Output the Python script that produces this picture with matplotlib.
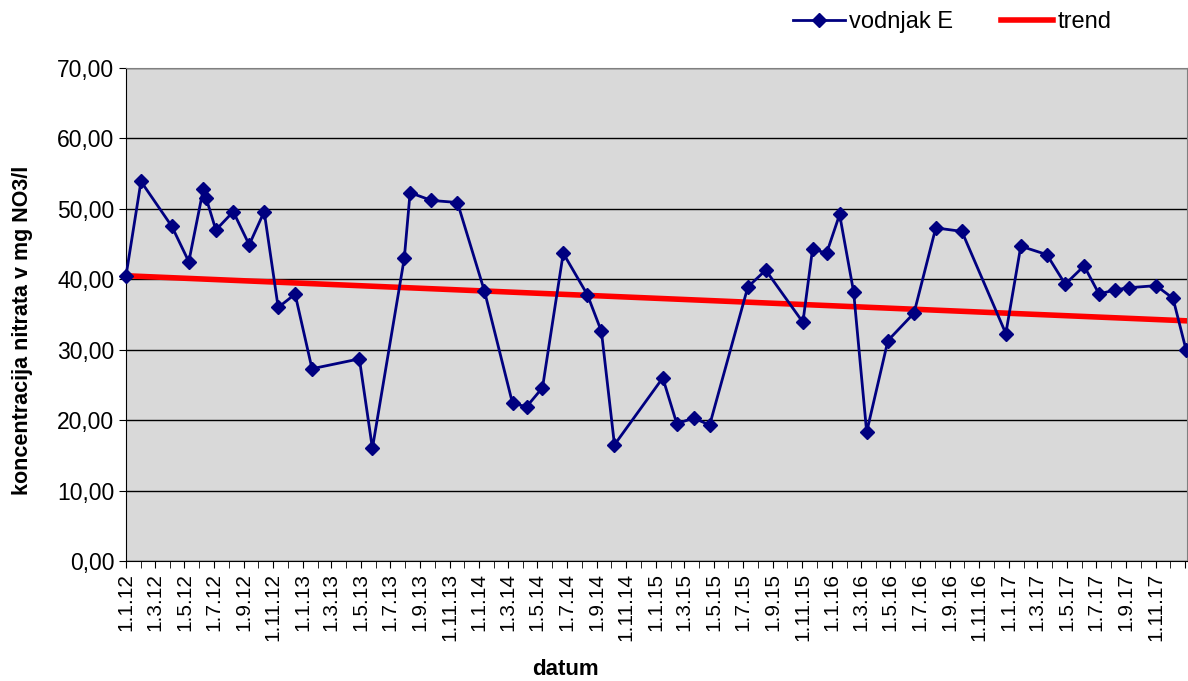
import matplotlib
matplotlib.use("Agg")
from matplotlib import pyplot as plt
import matplotlib.dates as mdates
from matplotlib.ticker import FuncFormatter, MultipleLocator
import pandas as pd

plt.rcParams['font.family'] = ['Liberation Sans', 'DejaVu Sans']

dates = ["2012-01-01", "2012-02-01", "2012-04-05", "2012-05-10", "2012-06-09",
         "2012-06-15", "2012-07-05", "2012-08-10", "2012-09-12", "2012-10-13",
         "2012-11-11", "2012-12-16", "2013-01-20", "2013-04-28", "2013-05-25",
         "2013-07-30", "2013-08-11", "2013-09-24", "2013-11-17", "2014-01-12",
         "2014-03-11", "2014-04-09", "2014-05-12", "2014-06-24", "2014-08-13",
         "2014-09-11", "2014-10-08", "2015-01-16", "2015-02-14", "2015-03-21",
         "2015-04-23", "2015-07-11", "2015-08-17", "2015-11-02", "2015-11-22",
         "2015-12-21", "2016-01-17", "2016-02-15", "2016-03-13", "2016-04-26",
         "2016-06-19", "2016-08-03", "2016-09-26", "2016-12-26", "2017-01-26",
         "2017-03-21", "2017-04-28", "2017-06-06", "2017-07-07", "2017-08-09",
         "2017-09-07", "2017-11-02", "2017-12-07", "2018-01-03"]
nitrate = [40.5, 53.9, 47.5, 42.5, 52.8, 51.5, 47.0, 49.6, 44.9, 49.6,
           36.0, 37.9, 27.3, 28.7, 16.0, 43.0, 52.3, 51.2, 50.9, 38.3,
           22.4, 21.9, 24.6, 43.7, 37.8, 32.6, 16.5, 26.0, 19.5, 20.3,
           19.3, 38.9, 41.3, 33.9, 44.3, 43.7, 49.2, 38.2, 18.3, 31.3,
           35.2, 47.3, 46.8, 32.3, 44.7, 43.5, 39.3, 41.9, 37.9, 38.5,
           38.8, 39.1, 37.3, 30.0]

trend_dates = ["2012-01-01", "2018-01-05"]
trend_vals = [40.5, 34.1]

x = pd.to_datetime(dates)
xt = pd.to_datetime(trend_dates)


def date_label(v, pos):
    d = mdates.num2date(v)
    if d.year > 2017:
        return ""
    return f"{d.day}.{d.month}.{d.strftime('%y')}"


fig = plt.figure(figsize=(11.88, 6.81), dpi=100)
ax = fig.add_axes([126 / 1188, 1 - 561 / 681, (1187 - 126) / 1188, (561 - 68) / 681])
ax.set_facecolor("#d9d9d9")

ax.plot(x, nitrate, color="#000080", lw=2, marker="D", markersize=7,
        label="vodnjak E", zorder=4, clip_on=False)
ax.plot(xt, trend_vals, color="#ff0000", lw=4, label="trend", zorder=3)

ax.set_xlim(pd.Timestamp("2012-01-01"), pd.Timestamp("2018-01-05"))
ax.set_ylim(0, 70)
ax.yaxis.set_major_locator(MultipleLocator(10))
ax.yaxis.set_major_formatter(FuncFormatter(lambda v, p: f"{v:.2f}".replace(".", ",")))
ax.grid(axis="y", color="black", lw=1)
ax.set_axisbelow(True)

ax.xaxis.set_major_locator(mdates.MonthLocator(bymonth=[1, 3, 5, 7, 9, 11]))
ax.xaxis.set_minor_locator(mdates.MonthLocator())
ax.xaxis.set_major_formatter(FuncFormatter(date_label))
ax.tick_params(axis="x", which="both", length=5, color="black", labelsize=15,
               labelrotation=90)
ax.tick_params(axis="y", length=5, labelsize=16.5)

for side in ["top", "right"]:
    ax.spines[side].set_color("#808080")
for side in ["left", "bottom"]:
    ax.spines[side].set_color("black")

ax.set_xlabel("datum", fontsize=16, fontweight="bold")
ax.xaxis.set_label_coords(0.414, -0.198)
ax.set_ylabel("koncentracija nitrata v mg NO3/l", fontsize=15.5, fontweight="bold")
ax.yaxis.set_label_coords(-0.088, 0.4686)

fig.legend(loc="center", bbox_to_anchor=(952 / 1188, 1 - 22 / 681), ncol=2,
           frameon=False, fontsize=17, handlelength=2.2, columnspacing=2.0,
           handletextpad=0.2)

fig.savefig("out.png", dpi=100)
